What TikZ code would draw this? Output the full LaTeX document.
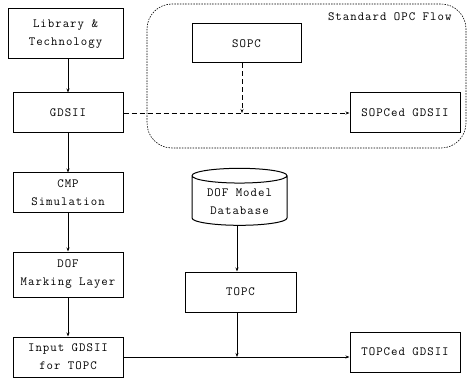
\documentclass[tikz,border=0pt]{standalone}
\usepackage{fontspec}
\setmonofont{Latin Modern Mono}[LetterSpace=8]
\usetikzlibrary{arrows.meta, shapes.geometric, positioning, calc}
\tikzset{
  % plain flow box
  FB/.style={rectangle,draw=black,fill=white,align=center,
             minimum width=#1,minimum height=40pt,inner sep=2pt,
             font=\ttfamily\fontsize{12.5}{18}\selectfont,line width=1pt},
  FB/.default=110pt,
  % database cylinder
  DBC/.style={cylinder,shape border rotate=90,aspect=0.22,draw=black,
              fill=white,align=center,minimum width=95pt,minimum height=57pt,
              inner sep=1pt,font=\ttfamily\fontsize{12.5}{18}\selectfont,
              line width=1pt},
  % arrows
  Arr/.style ={-{Stealth[length=4pt,width=3pt]},line width=0.8pt},
  DArr/.style={-{Stealth[length=4pt,width=3pt]},line width=0.8pt,
               dash pattern=on 5pt off 3pt},
  Region/.style={draw=black,rounded corners=25pt,line width=0.6pt,
                 dash pattern=on 1.5pt off 1.2pt},
}
\begin{document}
\begin{tikzpicture}[x=1pt,y=-1pt]
  \useasboundingbox (0,0) rectangle (468,379);
  % standard OPC region
  \draw[Region] (147,4) rectangle (466,148);
  \node[anchor=east,font=\ttfamily\fontsize{12.5}{14}\selectfont]
        at (455,17) (lbl) {Standard OPC Flow};
  % left column
  \node[FB=115pt,minimum height=50pt] at (65.5,34) (lib)
        {Library \&\\Technology};
  \node[FB] at (68,113) (gds) {GDSII};
  \node[FB] at (68,193) (cmp) {CMP\\Simulation};
  \node[FB,minimum height=45pt] at (68,274.5) (dof)
        {DOF\\Marking Layer};
  \node[FB] at (68,357) (inp) {Input GDSII\\for TOPC};
  % middle column
  \node[FB=109pt,minimum height=39pt] at (246.5,43.5) (sopc) {SOPC};
  \node[DBC] at (239.5,201.5) (db) {DOF Model\\Database};
  \node[FB=111pt] at (240.5,292) (topc) {TOPC};
  % right column
  \node[FB] at (405,113) (sgds) {SOPCed GDSII};
  \node[FB] at (405,352) (tgds) {TOPCed GDSII};
  \coordinate (j1) at (242,113);
  \coordinate (j2) at (237,357);
  % connectors
  \draw[Arr] (gds.north |- lib.south) -- (gds.north);
  \draw[Arr] (gds) -- (cmp);
  \draw[Arr] (cmp) -- (dof);
  \draw[Arr] (dof) -- (inp);
  \draw[DArr] (gds) -- (sgds);
  \draw[DArr] (sopc.south -| j1) -- (j1);
  \draw[Arr] (db.south -| j2) -- (topc.north -| j2);
  \draw[Arr] (topc.south -| j2) -- (j2);
  \draw[Arr] (inp.east) -- (tgds.west |- inp.east);
\end{tikzpicture}
\end{document}
